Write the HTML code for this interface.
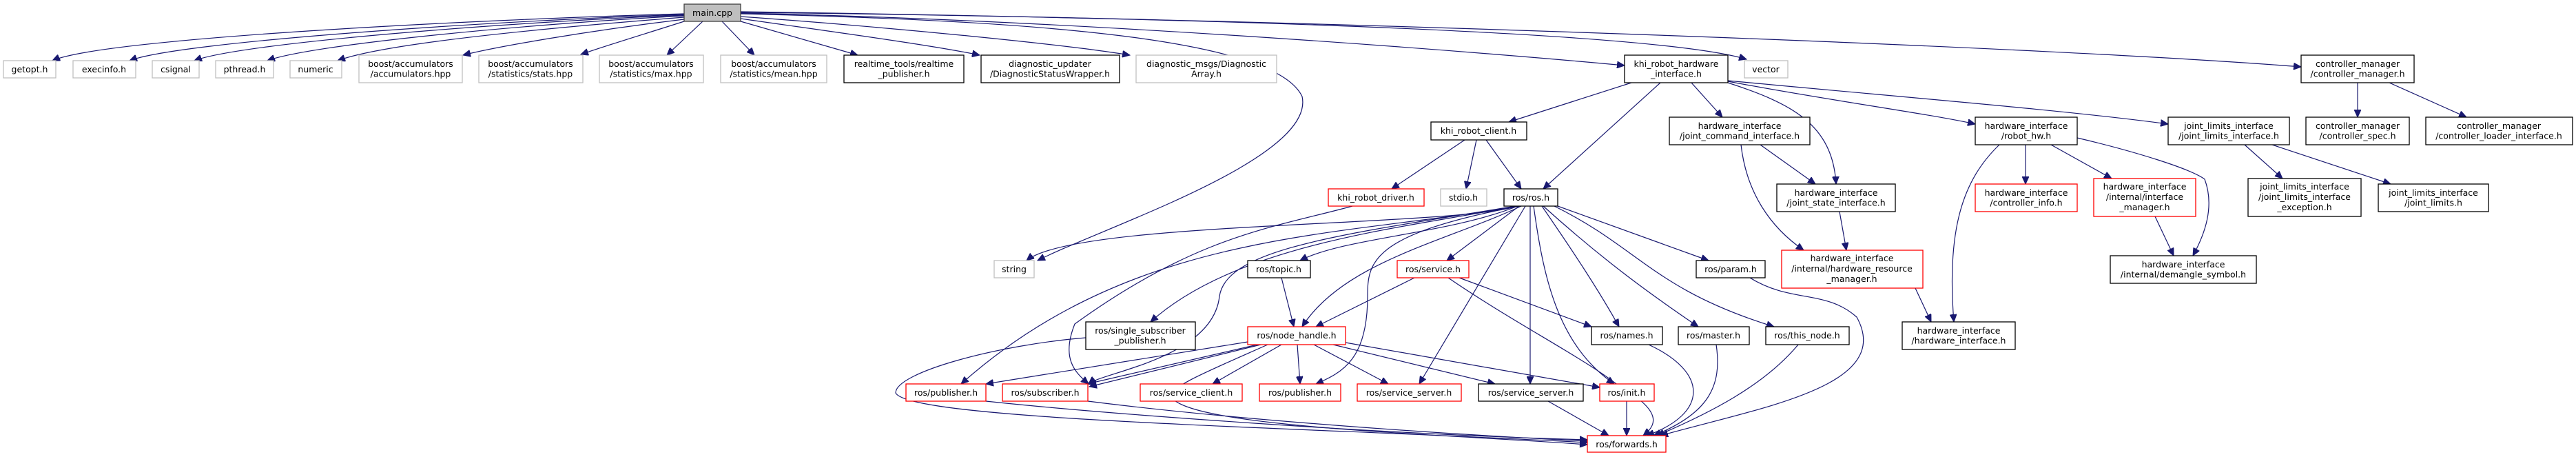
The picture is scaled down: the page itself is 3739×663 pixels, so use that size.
<!DOCTYPE html>
<html><head><meta charset="utf-8"><style>
html,body{margin:0;padding:0;background:#fff;}
svg{display:block}
text{font-family:"DejaVu Sans","Liberation Sans",sans-serif;font-size:12.5px;fill:#000;text-anchor:middle}
.e{fill:none;stroke:#191970;stroke-width:1.2}
.g{fill:#fff;stroke:#bfbfbf;stroke-width:1.3}
.b{fill:#fff;stroke:#000;stroke-width:1.3}
.r{fill:#fff;stroke:#ff0000;stroke-width:1.3}
</style></head><body>
<svg width="3739" height="663" viewBox="0 0 3739 663" xmlns="http://www.w3.org/2000/svg">
<defs><marker id="a" markerWidth="12" markerHeight="10" refX="11" refY="5" orient="auto" markerUnits="userSpaceOnUse"><path d="M0,0 L11,5 L0,10 z" fill="#191970" stroke="#191970"/></marker></defs>
<g class="e" marker-end="url(#a)">
<!-- main.cpp edges -->
<path d="M993,20 C700,28 150,55 76,88"/>
<path d="M993,21 C720,30 260,60 188,88"/>
<path d="M993,22 C740,32 350,62 282,88"/>
<path d="M993,23 C760,35 450,65 388,88"/>
<path d="M993,25 C800,40 560,62 490,88"/>
<path d="M993,28 C850,45 720,68 672,80"/>
<path d="M993,31 C940,48 880,66 843,79"/>
<path d="M1020,31 L968,80"/>
<path d="M1048,31 L1095,80"/>
<path d="M1075,31 L1245,80"/>
<path d="M1075,27 C1200,45 1350,65 1422,80"/>
<path d="M1075,24 C1300,40 1550,65 1640,80"/>
<path d="M1075,20 C1500,30 1850,55 1890,140 C1910,230 1600,330 1506,378"/>
<path d="M1075,19 C1600,30 2200,80 2358,95"/>
<path d="M1075,18 C1700,25 2400,45 2535,86"/>
<path d="M1075,17 C2000,30 3000,70 3340,97"/>
<!-- khi_robot_hardware_interface -->
<path d="M2368,120 L2190,177"/>
<path d="M2410,120 L2240,274"/>
<path d="M2455,120 L2500,170"/>
<path d="M2508,120 C2600,150 2660,180 2665,267"/>
<path d="M2508,118 C2650,145 2800,165 2867,180"/>
<path d="M2508,117 C2750,140 3000,160 3147,180"/>
<!-- khi_robot_client -->
<path d="M2126,203 L2020,274"/>
<path d="M2143,203 L2128,274"/>
<path d="M2157,203 L2208,274"/>
<!-- joint_command -->
<path d="M2555,210 L2635,267"/>
<path d="M2527,210 C2535,280 2570,330 2618,363"/>
<path d="M2670,307 L2680,363"/>
<path d="M2780,418 L2803,467"/>
<!-- robot_hw -->
<path d="M2902,210 C2850,260 2825,330 2836,467"/>
<path d="M2940,210 L2940,267"/>
<path d="M2977,210 L3065,259"/>
<path d="M3015,200 C3100,220 3180,245 3200,260 C3215,300 3200,340 3183,371"/>
<path d="M3128,314 L3155,371"/>
<!-- joint_limits -->
<path d="M3258,210 L3313,259"/>
<path d="M3298,210 L3470,267"/>
<!-- controller_manager -->
<path d="M3422,120 L3422,170"/>
<path d="M3468,120 L3580,170"/>
<!-- ros/ros.h -->
<path d="M2203,299 C2100,330 1560,320 1490,378"/>
<path d="M2203,299 C2100,340 1950,345 1887,378"/>
<path d="M2205,299 L2100,378"/>
<path d="M2208,299 C2100,350 1950,380 1890,474"/>
<path d="M2200,299 C2050,330 1800,350 1670,467"/>
<path d="M2200,299 C1950,345 1650,330 1395,557"/>
<path d="M2200,299 C1950,340 1780,360 1770,430 C1760,520 1600,540 1580,557"/>
<path d="M2205,299 C1990,340 1985,380 1985,430 C1985,520 1950,540 1910,557"/>
<path d="M2214,299 L2060,557"/>
<path d="M2221,299 L2221,557"/>
<path d="M2226,299 C2240,400 2260,500 2343,557"/>
<path d="M2238,299 C2280,360 2320,420 2350,474"/>
<path d="M2240,299 C2330,380 2400,430 2465,474"/>
<path d="M2256,299 C2380,360 2400,420 2575,474"/>
<path d="M2261,299 L2480,378"/>
<!-- khi_robot_driver -->
<path d="M1963,299 C1850,330 1740,340 1560,470 C1540,520 1560,540 1580,557"/>
<!-- topic, service, param -->
<path d="M1860,403 L1878,474"/>
<path d="M2053,403 L1910,474"/>
<path d="M2118,403 L2310,474"/>
<path d="M2102,403 C2200,470 2300,520 2350,560 C2420,600 2400,620 2385,632"/>
<path d="M2540,403 C2600,440 2650,420 2695,460 C2750,560 2560,590 2410,632"/>
<!-- node_handle -->
<path d="M1811,496 L1431,557"/>
<path d="M1825,500 L1578,557"/>
<path d="M1830,500 L1581,561"/>
<path d="M1860,500 L1760,557"/>
<path d="M1883,500 L1887,557"/>
<path d="M1907,500 L2015,557"/>
<path d="M1935,500 L2170,557"/>
<path d="M1953,497 L2322,562"/>
<path d="M1840,500 C1750,540 1700,560 1700,575 C1720,620 2100,630 2304,645"/>
<!-- single_subscriber_publisher -->
<path d="M1576,490 C1450,500 1300,540 1300,570 C1320,610 1900,620 2304,642"/>
<!-- to forwards -->
<path d="M1431,582 C1600,600 2000,630 2304,638"/>
<path d="M1579,582 C1800,610 2100,630 2304,640"/>
<path d="M2247,582 L2335,632"/>
<path d="M2361,582 L2361,632"/>
<path d="M2393,500 C2480,540 2480,600 2390,632"/>
<path d="M2491,500 C2500,560 2480,600 2400,632"/>
<path d="M2610,500 C2560,560 2480,600 2405,632"/>
</g>
<!-- nodes -->
<rect class="g" x="5" y="88" width="76" height="25"/><text x="43" y="105">getopt.h</text>
<rect class="g" x="106" y="88" width="91" height="25"/><text x="151" y="105">execinfo.h</text>
<rect class="g" x="221" y="88" width="68" height="25"/><text x="255" y="105">csignal</text>
<rect class="g" x="313" y="88" width="84" height="25"/><text x="355" y="105">pthread.h</text>
<rect class="g" x="421" y="88" width="75" height="25"/><text x="458" y="105">numeric</text>
<rect class="g" x="521" y="80" width="150" height="40"/><text x="596" y="97">boost/accumulators</text><text x="596" y="111.5">/accumulators.hpp</text>
<rect class="g" x="695" y="80" width="151" height="40"/><text x="770" y="97">boost/accumulators</text><text x="770" y="111.5">/statistics/stats.hpp</text>
<rect class="g" x="870" y="80" width="151" height="40"/><text x="945" y="97">boost/accumulators</text><text x="945" y="111.5">/statistics/max.hpp</text>
<rect class="g" x="1046" y="80" width="154" height="40"/><text x="1123" y="97">boost/accumulators</text><text x="1123" y="111.5">/statistics/mean.hpp</text>
<rect class="b" x="1225" y="80" width="174" height="40"/><text x="1312" y="97">realtime_tools/realtime</text><text x="1312" y="111.5">_publisher.h</text>
<rect class="b" x="1424" y="80" width="201" height="40"/><text x="1524" y="97">diagnostic_updater</text><text x="1524" y="111.5">/DiagnosticStatusWrapper.h</text>
<rect class="g" x="1649" y="80" width="204" height="40"/><text x="1751" y="97">diagnostic_msgs/Diagnostic</text><text x="1751" y="111.5">Array.h</text>
<rect x="993" y="6" width="82" height="25" fill="#bfbfbf" stroke="#404040" stroke-width="1.3"/><text x="1034" y="23">main.cpp</text>
<rect class="g" x="1443" y="378" width="58" height="25"/><text x="1472" y="395">string</text>
<rect class="b" x="1576" y="467" width="159" height="40"/><text x="1655" y="484">ros/single_subscriber</text><text x="1655" y="498.5">_publisher.h</text>
<rect class="r" x="1315" y="557" width="116" height="25"/><text x="1373" y="574">ros/publisher.h</text>
<rect class="r" x="1455" y="557" width="124" height="25"/><text x="1517" y="574">ros/subscriber.h</text>
<rect class="r" x="1655" y="557" width="148" height="25"/><text x="1729" y="574">ros/service_client.h</text>
<rect class="b" x="2358" y="80" width="150" height="40"/><text x="2433" y="97">khi_robot_hardware</text><text x="2433" y="111.5">_interface.h</text>
<rect class="g" x="2532" y="88" width="63" height="25"/><text x="2563" y="105">vector</text>
<rect class="b" x="2077" y="177" width="139" height="26"/><text x="2146" y="194">khi_robot_client.h</text>
<rect class="b" x="2423" y="170" width="204" height="40"/><text x="2525" y="187">hardware_interface</text><text x="2525" y="201.5">/joint_command_interface.h</text>
<rect class="r" x="1928" y="274" width="139" height="25"/><text x="1997" y="291">khi_robot_driver.h</text>
<rect class="g" x="2091" y="274" width="67" height="25"/><text x="2124" y="291">stdio.h</text>
<rect class="b" x="2183" y="274" width="78" height="25"/><text x="2222" y="291">ros/ros.h</text>
<rect class="b" x="2579" y="267" width="172" height="40"/><text x="2665" y="284">hardware_interface</text><text x="2665" y="298.5">/joint_state_interface.h</text>
<rect class="b" x="1811" y="378" width="91" height="25"/><text x="1856" y="395">ros/topic.h</text>
<rect class="r" x="2028" y="378" width="104" height="25"/><text x="2080" y="395">ros/service.h</text>
<rect class="b" x="2462" y="378" width="100" height="25"/><text x="2512" y="395">ros/param.h</text>
<rect class="r" x="2586" y="363" width="205" height="55"/><text x="2688" y="379">hardware_interface</text><text x="2688" y="394">/internal/hardware_resource</text><text x="2688" y="409">_manager.h</text>
<rect class="r" x="1811" y="474" width="142" height="26"/><text x="1882" y="491">ros/node_handle.h</text>
<rect class="b" x="2310" y="474" width="103" height="26"/><text x="2361" y="491">ros/names.h</text>
<rect class="b" x="2436" y="474" width="103" height="26"/><text x="2487" y="491">ros/master.h</text>
<rect class="b" x="2563" y="474" width="121" height="26"/><text x="2623" y="491">ros/this_node.h</text>
<rect class="r" x="1828" y="557" width="118" height="25"/><text x="1887" y="574">ros/publisher.h</text>
<rect class="r" x="1970" y="557" width="151" height="25"/><text x="2045" y="574">ros/service_server.h</text>
<rect class="b" x="2146" y="557" width="152" height="25"/><text x="2222" y="574">ros/service_server.h</text>
<rect class="r" x="2322" y="557" width="79" height="25"/><text x="2361" y="574">ros/init.h</text>
<rect class="r" x="2304" y="632" width="114" height="24"/><text x="2361" y="649">ros/forwards.h</text>
<rect class="b" x="3340" y="80" width="164" height="40"/><text x="3422" y="97">controller_manager</text><text x="3422" y="111.5">/controller_manager.h</text>
<rect class="b" x="2867" y="170" width="148" height="40"/><text x="2941" y="187">hardware_interface</text><text x="2941" y="201.5">/robot_hw.h</text>
<rect class="b" x="3147" y="170" width="176" height="40"/><text x="3235" y="187">joint_limits_interface</text><text x="3235" y="201.5">/joint_limits_interface.h</text>
<rect class="b" x="3347" y="170" width="150" height="40"/><text x="3422" y="187">controller_manager</text><text x="3422" y="201.5">/controller_spec.h</text>
<rect class="b" x="3521" y="170" width="213" height="40"/><text x="3627" y="187">controller_manager</text><text x="3627" y="201.5">/controller_loader_interface.h</text>
<rect class="r" x="2867" y="267" width="148" height="40"/><text x="2941" y="284">hardware_interface</text><text x="2941" y="298.5">/controller_info.h</text>
<rect class="r" x="3039" y="259" width="148" height="55"/><text x="3113" y="275">hardware_interface</text><text x="3113" y="290">/internal/interface</text><text x="3113" y="305">_manager.h</text>
<rect class="b" x="3263" y="259" width="164" height="55"/><text x="3345" y="275">joint_limits_interface</text><text x="3345" y="290">/joint_limits_interface</text><text x="3345" y="305">_exception.h</text>
<rect class="b" x="3452" y="267" width="160" height="40"/><text x="3532" y="284">joint_limits_interface</text><text x="3532" y="298.5">/joint_limits.h</text>
<rect class="b" x="3063" y="371" width="212" height="40"/><text x="3169" y="388">hardware_interface</text><text x="3169" y="402.5">/internal/demangle_symbol.h</text>
<rect class="b" x="2761" y="467" width="164" height="40"/><text x="2843" y="484">hardware_interface</text><text x="2843" y="498.5">/hardware_interface.h</text>
</svg>
</body></html>
